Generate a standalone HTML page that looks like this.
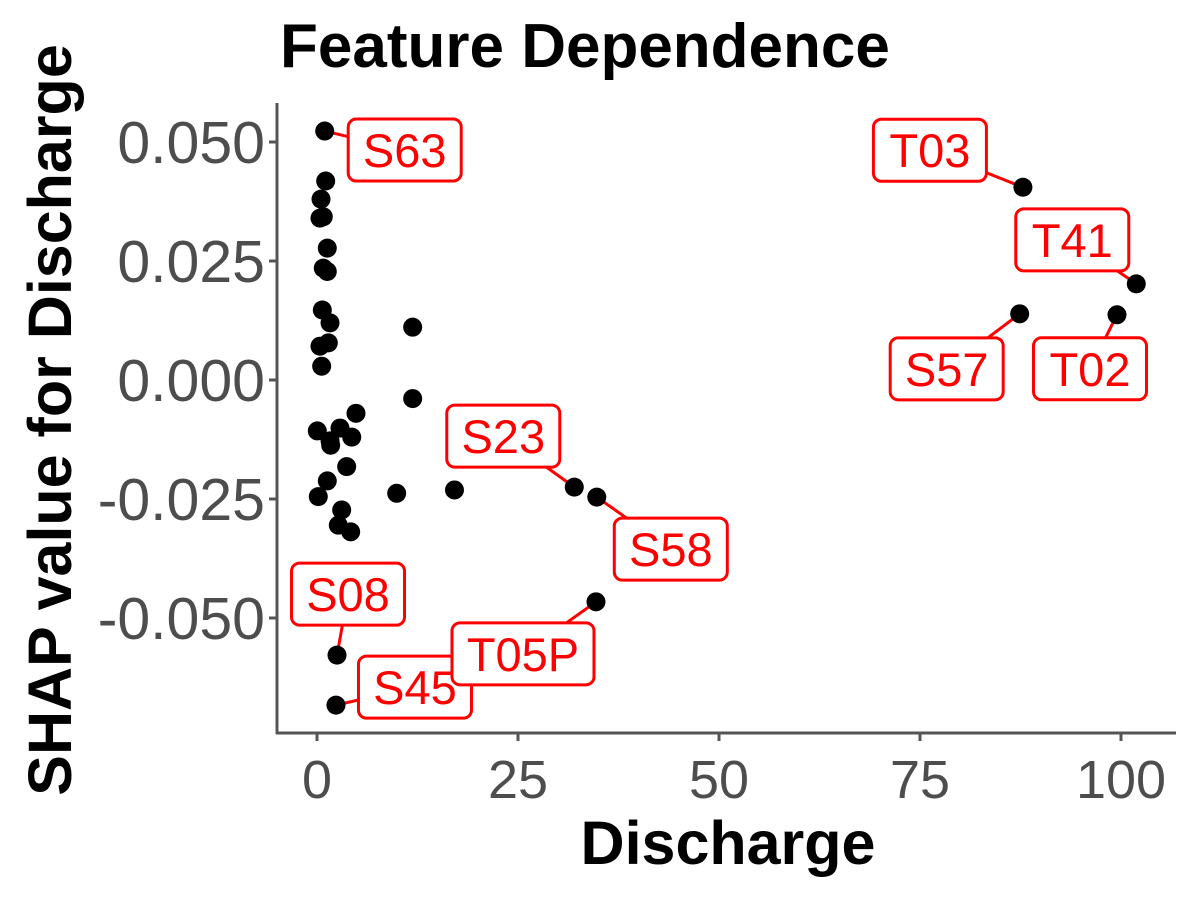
<!DOCTYPE html>
<html><head><meta charset="utf-8">
<style>
html,body{margin:0;padding:0;background:#fff;}
svg{display:block;font-family:"Liberation Sans",Arial,sans-serif;}
</style></head>
<body>
<svg id="chart" width="1200" height="900" viewBox="0 0 1200 900">
<text x="280" y="67" font-size="62" font-weight="bold" fill="#000">Feature Dependence</text>
<text transform="translate(71,420) rotate(-90)" text-anchor="middle" font-size="61" font-weight="bold" fill="#000">SHAP value for Discharge</text>
<text x="728" y="864" text-anchor="middle" font-size="61" font-weight="bold" fill="#000">Discharge</text>
<g id="axes"></g>
<g id="links"></g>
<g id="points"></g>
<g id="labels"></g>
</svg>
<script>
const xVals=[0.96,1.08,0.5,0.37,0.78,1.28,0.78,1.28,0.66,1.62,0.37,1.41,0.58,11.9,11.9,4.85,0.04,2.86,1.70,1.62,4.32,3.69,1.28,0.16,9.91,17.1,3.07,2.65,4.19,2.49,2.36,34.7,32.0,34.8,87.8,101.9,87.4,99.5];
const yVals=[0.0523,0.0418,0.0380,0.0340,0.0343,0.0277,0.0235,0.0228,0.0147,0.0120,0.0071,0.0078,0.0029,0.0111,-0.0039,-0.0070,-0.0107,-0.0101,-0.0137,-0.0128,-0.0120,-0.0182,-0.0212,-0.0245,-0.0238,-0.0231,-0.0273,-0.0305,-0.0319,-0.0578,-0.0683,-0.0466,-0.0225,-0.0246,0.0405,0.0202,0.0139,0.0137];
const pointNames=["S63","","","","","","","","","","","","","","","","","","","","","","","","","","","","","S08","S45","T05P","S23","S58","T03","T41","S57","T02"];
const xTicks=[0,25,50,75,100];
const yTicks=[0.05,0.025,0,-0.025,-0.05];
const yTickLabels=["0.050","0.025","0.000","-0.025","-0.050"];
// label box offsets (layout, px relative to point)
const labelOffsets={S63:[80,19],S08:[11,-61],S45:[79,-18],T05P:[-73,52],S23:[-71,-51],S58:[74,52],T03:[-93,-37],T41:[-64,-44],S57:[-73,55],T02:[-27,54]};

const ns="http://www.w3.org/2000/svg";
const X=v=>317+v*8.04;
const Y=v=>380-v*4760;
function mk(tag,attrs,parent){const e=document.createElementNS(ns,tag);for(const k in attrs)e.setAttribute(k,attrs[k]);parent.appendChild(e);return e;}
const axes=document.getElementById('axes');
let l=mk('line',{x1:277,y1:103,x2:277,y2:734,stroke:'#555','stroke-width':3},axes);


l=mk('line',{x1:276,y1:733,x2:1176,y2:733,stroke:'#555','stroke-width':3},axes);


xTicks.forEach(t=>{
  const tk=mk('line',{x1:X(t),y1:733,x2:X(t),y2:741,stroke:'#555','stroke-width':3},axes);
  
  
  const tx=mk('text',{x:X(t),y:798,'text-anchor':'middle','font-size':54,fill:'#4d4d4d'},axes);
  tx.textContent=String(t);
  
  
});
yTicks.forEach((t,i)=>{
  const tk=mk('line',{x1:269,y1:Y(t),x2:277,y2:Y(t),stroke:'#555','stroke-width':3},axes);
  
  
  const tx=mk('text',{x:265,y:Y(t)+21,'text-anchor':'end','font-size':59,fill:'#4d4d4d'},axes);
  tx.textContent=yTickLabels[i];
  
  
});
const pts=document.getElementById('points'),links=document.getElementById('links'),labs=document.getElementById('labels');
xVals.forEach((xv,i)=>{
  const cx=X(xv),cy=Y(yVals[i]);
  const c=mk('circle',{cx:cx,cy:cy,r:9.5,fill:'#000'},pts);
  
  
  const nm=pointNames[i];
  if(nm){
    const o=labelOffsets[nm];const bx=cx+o[0],by=cy+o[1];
    const ln=mk('line',{x1:cx,y1:cy,x2:bx,y2:by,stroke:'#f00','stroke-width':3},links);
    
    
    const w=nm.length===4?142:113;
    const g=mk('g',{},labs);
    
    
    mk('rect',{x:bx-w/2,y:by-31,width:w,height:62,rx:8,fill:'#fff',stroke:'#f00','stroke-width':3},g);
    const t=mk('text',{x:bx,y:by+17,'text-anchor':'middle','font-size':47,fill:'#f00'},g);
    t.textContent=nm;
  }
});
</script>
</body></html>
